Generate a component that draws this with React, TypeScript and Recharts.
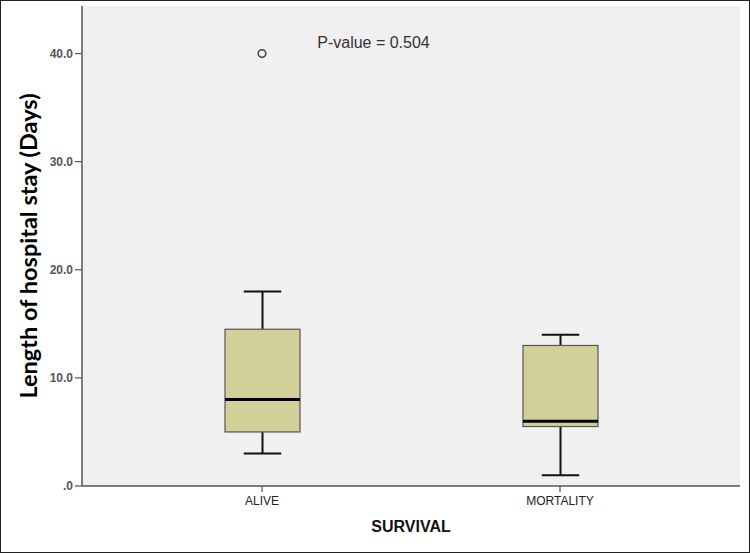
import React from "react";
import { Bar, ComposedChart, Scatter, XAxis, YAxis, CartesianGrid } from "recharts";

const groups = ["ALIVE", "MORTALITY"];
const whiskerLow = [3, 1];
const quartile1 = [5, 5.5];
const medians = [8, 6];
const quartile3 = [14.5, 13];
const whiskerHigh = [18, 14];
const outliers: (number | null)[] = [40, null];
const yTicks = [0, 10, 20, 30, 40];

const data = groups.map((name, i) => ({
  name,
  range: [whiskerLow[i], whiskerHigh[i]],
  low: whiskerLow[i],
  q1: quartile1[i],
  median: medians[i],
  q3: quartile3[i],
  high: whiskerHigh[i],
  outlier: outliers[i],
}));

const BoxShape = (props: any) => {
  const { x, y, width, height, payload } = props;
  const { low, q1, median, q3, high } = payload;
  const perUnit = height / (high - low);
  const py = (v: number) => y + (high - v) * perUnit;
  const cx = x + width / 2;
  const cap = width / 2;
  return (
    <g>
      <line x1={cx} x2={cx} y1={py(high)} y2={py(q3)} stroke="#111" strokeWidth={2} />
      <line x1={cx} x2={cx} y1={py(q1)} y2={py(low)} stroke="#111" strokeWidth={2} />
      <line x1={cx - cap / 2} x2={cx + cap / 2} y1={py(high)} y2={py(high)} stroke="#111" strokeWidth={2} />
      <line x1={cx - cap / 2} x2={cx + cap / 2} y1={py(low)} y2={py(low)} stroke="#111" strokeWidth={2} />
      <rect x={x} y={py(q3)} width={width} height={py(q1) - py(q3)} fill="#d3cf99" stroke="#555" strokeWidth={1.2} />
      <line x1={x} x2={x + width} y1={py(median)} y2={py(median)} stroke="#000" strokeWidth={3} />
    </g>
  );
};

const OutlierDot = (props: any) => {
  const { cx, cy } = props;
  if (cx == null || cy == null) return <g />;
  return <circle cx={cx} cy={cy} r={3.8} fill="none" stroke="#444" strokeWidth={1.6} />;
};

const yLabel = (props: any) => {
  const { viewBox } = props;
  const cy = viewBox.y + viewBox.height / 2;
  return (
    <text
      x={28}
      y={cy}
      transform={`rotate(-90, 28, ${cy})`}
      textAnchor="middle"
      dominantBaseline="central"
      fontFamily="Lato, 'Open Sans', sans-serif"
      fontWeight="bold"
      fontSize={23.5}
      fill="#000"
    >
      Length of hospital stay (Days)
    </text>
  );
};

export default function App() {
  return (
    <div style={{ position: "relative", width: 750, height: 553, background: "#fff", fontFamily: "'Liberation Sans', Arial, sans-serif" }}>
      <style>{"body{margin:0}"}</style>
      <div style={{ position: "absolute", left: 0, top: 0, width: 748, height: 551, border: "1px solid #222" }} />
      <ComposedChart width={750} height={553} data={data} margin={{ top: 6, right: 10, bottom: 0, left: 22 }}>
        <CartesianGrid fill="#f0f0f0" horizontal={false} vertical={false} />
        <XAxis
          dataKey="name"
          padding={{ left: 31, right: 31 }}
          axisLine={{ stroke: "#555", strokeWidth: 1.5 }}
          tickLine={{ stroke: "#555", strokeWidth: 1.2 }}
          tickSize={6}
          tickMargin={4}
          tick={{ fill: "#222", fontSize: 12 }}
          height={67}
          label={{ value: "SURVIVAL", position: "insideTop", offset: 35, fill: "#111", fontSize: 16, fontWeight: "bold" }}
        />
        <XAxis xAxisId="top" orientation="top" dataKey="name" height={0} tick={false} tickLine={false} axisLine={{ stroke: "#888", strokeWidth: 2 }} />
        <YAxis
          domain={[0, 44.4]}
          ticks={yTicks}
          width={60}
          allowDataOverflow
          axisLine={{ stroke: "#555", strokeWidth: 1.5 }}
          tickLine={{ stroke: "#555", strokeWidth: 1.2 }}
          tickSize={7}
          tick={{ fill: "#555", fontSize: 12, fontWeight: "bold" }}
          tickFormatter={(v: number) => (v === 0 ? ".0" : v.toFixed(1))}
          label={yLabel}
        />
        <YAxis yAxisId="right" orientation="right" width={0} tick={false} tickLine={false} axisLine={{ stroke: "#888", strokeWidth: 2 }} />
        <Bar dataKey="range" barSize={75} shape={BoxShape} isAnimationActive={false} />
        <Scatter dataKey="outlier" shape={OutlierDot} isAnimationActive={false} />
        <text x={373.5} y={48} textAnchor="middle" fontSize={16} fill="#333" fontFamily="'Liberation Sans', Arial, sans-serif">
          P-value = 0.504
        </text>
      </ComposedChart>
    </div>
  );
}
